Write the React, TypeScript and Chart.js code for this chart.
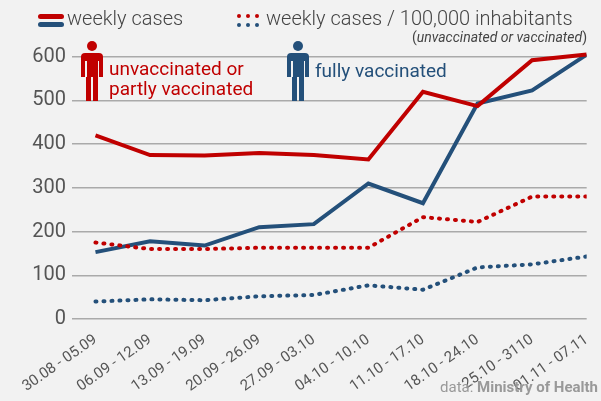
import React, { useEffect, useRef } from "react";
import { Chart, registerables } from "chart.js";
Chart.register(...registerables);

const categories = ["30.08 - 05.09","06.09 - 12.09","13.09 - 19.09","20.09 - 26.09","27.09 - 03.10","04.10 - 10.10","11.10 - 17.10","18.10 - 24.10","25.10 - 3110","01.11 - 07.11"];
const unvaxCases = [420, 375, 374, 380, 375, 365, 520, 487, 592, 605];
const vaxCases = [153, 178, 168, 210, 217, 310, 265, 493, 523, 605];
const unvaxPer100k = [175, 160, 160, 163, 163, 163, 233, 222, 280, 280];
const vaxPer100k = [40, 45, 43, 52, 55, 77, 67, 118, 125, 143];
const yTicks = [0, 100, 200, 300, 400, 500, 600];

const RED = "#c00000";
const BLUE = "#24507a";
const FONT = "Roboto, 'Liberation Sans', sans-serif";

const pts = (arr: number[]) => arr.map((y, i) => ({ x: i, y }));

const Person = ({ x, y, color }: { x: number; y: number; color: string }) => (
  <div style={{ position: "absolute", left: x, top: y, width: 22, height: 60 }}>
    <div style={{ position: "absolute", left: 6, top: 0, width: 10, height: 10, borderRadius: 5, background: color }} />
    <div style={{ position: "absolute", left: 0, top: 12, width: 22, height: 24, borderRadius: "4px 4px 0 0", background: color }} />
    <div style={{ position: "absolute", left: 5, top: 30, width: 5, height: 30, background: color }} />
    <div style={{ position: "absolute", left: 12, top: 30, width: 5, height: 30, background: color }} />
    <div style={{ position: "absolute", left: 4, top: 20, width: 1.5, height: 16, background: "#f2f2f2" }} />
    <div style={{ position: "absolute", left: 16.5, top: 20, width: 1.5, height: 16, background: "#f2f2f2" }} />
  </div>
);

export default function App() {
  const ref = useRef<HTMLCanvasElement>(null);
  useEffect(() => {
    document.body.style.margin = "0";
    const solid = (data: number[], c: string) => ({ data: pts(data), borderColor: c, borderWidth: 4, pointRadius: 0, tension: 0, fill: false });
    const dotted = (data: number[], c: string) => ({ ...solid(data, c), borderDash: [1, 7], borderCapStyle: "round" as const });
    const chart = new Chart(ref.current!, {
      type: "line",
      data: { datasets: [dotted(unvaxPer100k, RED), dotted(vaxPer100k, BLUE), solid(unvaxCases, RED), solid(vaxCases, BLUE)] },
      options: {
        animation: false,
        responsive: false,
        layout: { padding: { top: 48, right: 4, left: 0, bottom: 0 } },
        plugins: { legend: { display: false }, tooltip: { enabled: false } },
        scales: {
          x: {
            type: "linear", min: -0.43, max: 9,
            afterBuildTicks: (s: any) => { s.ticks = categories.map((_, i) => ({ value: i })); },
            afterFit: (s: any) => { s.height = 82; },
            grid: { display: false },
            border: { display: false },
            ticks: {
              callback: (v: any) => categories[v as number] ?? "",
              minRotation: 35, maxRotation: 35, color: "#555", padding: 4,
              font: { family: FONT, size: 15 },
            },
          },
          y: {
            min: 0, max: 620,
            afterBuildTicks: (s: any) => { s.ticks = yTicks.map((v) => ({ value: v })); },
            afterFit: (s: any) => { s.width = 72; },
            border: { display: false },
            grid: { color: "#aaaaaa", lineWidth: 1.5, drawTicks: false },
            ticks: { color: "#555", padding: 6, font: { family: FONT, size: 20 } },
          },
        },
      },
    });
    return () => chart.destroy();
  }, []);
  const txt: React.CSSProperties = { position: "absolute", fontFamily: FONT, whiteSpace: "nowrap" };
  return (
    <div style={{ position: "relative", width: 601, height: 401, background: "#f2f2f2", overflow: "hidden" }}>
      <canvas ref={ref} width={601} height={401} style={{ position: "absolute", left: 0, top: 0 }} />
      <div style={{ position: "absolute", left: 38, top: 14, width: 26, height: 5, borderRadius: 3, background: RED }} />
      <div style={{ position: "absolute", left: 38, top: 22, width: 26, height: 5, borderRadius: 3, background: BLUE }} />
      <div style={{ ...txt, left: 67, top: 6, fontSize: 20, fontWeight: 300, color: "#444" }}>weekly cases</div>
      {[0, 1, 2].map((i) => (
        <React.Fragment key={i}>
          <div style={{ position: "absolute", left: 237 + i * 9, top: 14, width: 4, height: 4, borderRadius: 2, background: RED }} />
          <div style={{ position: "absolute", left: 237 + i * 9, top: 23, width: 4, height: 4, borderRadius: 2, background: BLUE }} />
        </React.Fragment>
      ))}
      <div style={{ ...txt, left: 266, top: 6, fontSize: 20, fontWeight: 300, color: "#444" }}>weekly cases / 100,000 inhabitants</div>
      <div style={{ ...txt, right: 14, top: 29, fontSize: 14, color: "#444" }}>(<i>unvaccinated or vaccinated</i>)</div>
      <Person x={81} y={41} color={RED} />
      <div style={{ ...txt, left: 109, top: 59, fontSize: 19, lineHeight: "20px", color: RED }}>unvaccinated or<br />partly vaccinated</div>
      <Person x={287} y={41} color={BLUE} />
      <div style={{ ...txt, left: 315, top: 59, fontSize: 19, color: BLUE }}>fully vaccinated</div>
      <div style={{ ...txt, right: 3, top: 378, fontSize: 15, color: "#999" }}>data: <b>Ministry of Health</b></div>
    </div>
  );
}
